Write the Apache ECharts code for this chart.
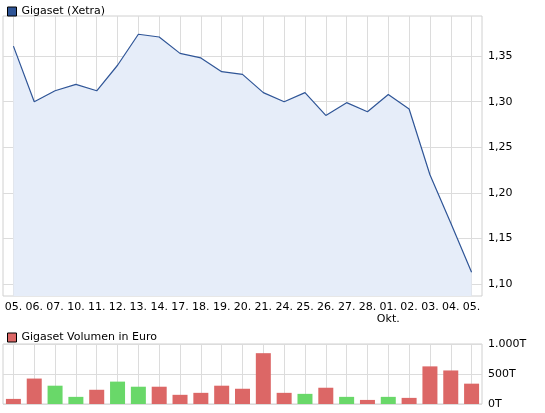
<!DOCTYPE html>
<html><head><meta charset="utf-8">
<script src="https://cdn.jsdelivr.net/npm/echarts@6/dist/echarts.min.js"></script>
<style>html,body{margin:0;padding:0;background:#fff}#c{width:545px;height:413px}</style>
</head><body><div id="c"></div>
<script>
const days = ["05.","06.","07.","10.","11.","12.","13.","14.","17.","18.","19.","20.","21.","24.","25.","26.","27.","28.","01.","02.","03.","04.","05."];
const prices = [1.361,1.300,1.312,1.319,1.312,1.340,1.374,1.371,1.353,1.348,1.333,1.330,1.310,1.300,1.310,1.285,1.299,1.289,1.308,1.292,1.220,1.167,1.113];
const volumes = [85,424,305,119,237,373,288,288,153,186,305,254,847,186,169,271,119,68,119,102,627,559,339];
const volUp = [false,false,true,true,false,true,true,false,false,false,false,false,false,false,true,false,true,false,true,false,false,false,false];
const priceTicks = [1.10,1.15,1.20,1.25,1.30,1.35];
const volTicks = [0,500,1000];

const idx = days.map((_, i) => i);
const font = {fontFamily: 'DejaVu Sans', fontSize: 11, color: '#000'};
const grid = {show: true, borderColor: '#d0d0d0', borderWidth: 1, backgroundColor: '#fff'};
const xBase = {
  type: 'value', min: -0.5, max: 22.5,
  axisLine: {show: false}, axisTick: {show: false, customValues: idx},
  splitLine: {show: true, lineStyle: {color: '#dcdcdc'}}
};

const chart = echarts.init(document.getElementById('c'));
chart.setOption({
  animation: false,
  textStyle: font,
  legend: [
    {top: 1, left: 2, itemWidth: 9, itemHeight: 9, itemGap: 4, icon: 'rect', textStyle: font,
     data: [{name: 'Gigaset (Xetra)', itemStyle: {color: '#2f5597', borderColor: '#000', borderWidth: 1}}]},
    {top: 327, left: 2, itemWidth: 9, itemHeight: 9, itemGap: 4, icon: 'rect', textStyle: font,
     data: [{name: 'Gigaset Volumen in Euro', itemStyle: {color: '#dc6766', borderColor: '#000', borderWidth: 1}}]}
  ],
  grid: [
    Object.assign({left: 3, top: 16, width: 479, height: 280}, grid),
    Object.assign({left: 3, top: 344, width: 479, height: 60}, grid)
  ],
  xAxis: [
    Object.assign({gridIndex: 0, axisLabel: {customValues: idx, margin: 5, fontFamily: 'DejaVu Sans', fontSize: 11, color: '#000',
      formatter: v => days[v] + (v === 18 ? '\nOkt.' : ''), lineHeight: 12}}, xBase),
    Object.assign({gridIndex: 1, axisLabel: {show: false}}, xBase)
  ],
  yAxis: [
    {gridIndex: 0, type: 'value', position: 'right', min: 1.087, max: 1.394,
     axisLine: {show: false}, axisTick: {show: false, customValues: priceTicks},
     splitLine: {lineStyle: {color: '#dcdcdc'}},
     axisLabel: {customValues: priceTicks, margin: 6, fontFamily: 'DejaVu Sans', fontSize: 11, color: '#000',
       formatter: v => v.toFixed(2).replace('.', ',')}},
    {gridIndex: 1, type: 'value', position: 'right', min: 0, max: 1000,
     axisLine: {show: false}, axisTick: {show: false, customValues: volTicks},
     splitLine: {lineStyle: {color: '#dcdcdc'}},
     axisLabel: {customValues: volTicks, margin: 6, fontFamily: 'DejaVu Sans', fontSize: 11, color: '#000',
       formatter: v => (v === 1000 ? '1.000' : v) + 'T'}}
  ],
  series: [
    {name: 'Gigaset (Xetra)', type: 'line', xAxisIndex: 0, yAxisIndex: 0, symbol: 'none',
     data: prices.map((v, i) => [i, v]),
     lineStyle: {color: '#2f5597', width: 1.2}, itemStyle: {color: '#2f5597'},
     areaStyle: {color: '#e6edf9', opacity: 1, origin: 'start'}},
    {name: 'Gigaset Volumen in Euro', type: 'bar', xAxisIndex: 1, yAxisIndex: 1, barWidth: 15,
     itemStyle: {color: '#dc6766'},
     data: volumes.map((v, i) => ({value: [i, v], itemStyle: {color: volUp[i] ? '#69d869' : '#dc6766'}}))}
  ]
});
</script></body></html>
